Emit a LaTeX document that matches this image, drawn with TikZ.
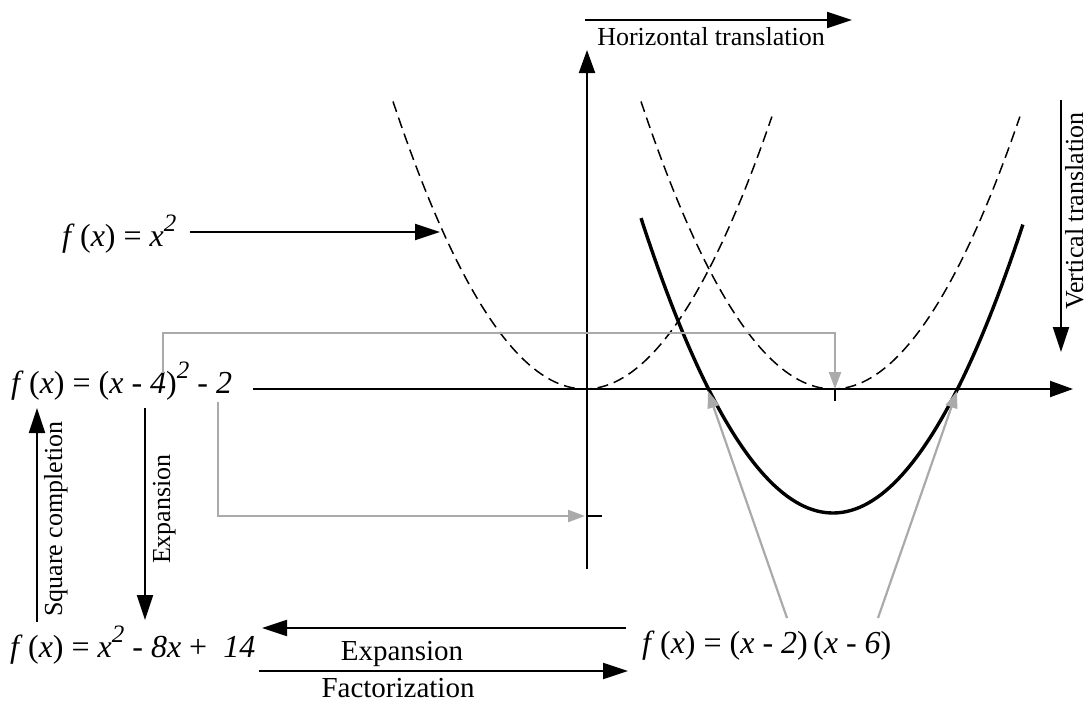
\documentclass[tikz,border=0pt]{standalone}
\usepackage{fontspec}
\setmainfont{Liberation Serif}
\usetikzlibrary{arrows.meta}
\definecolor{arrgray}{RGB}{170,170,170}
\newcommand\mysup[1]{\raisebox{0.45em}{\fontsize{25}{27}\selectfont\itshape #1}}
\tikzset{
  axisarrow/.style={line width=2.1pt, -{Triangle[length=23pt,width=16pt]}},
  bigarrow/.style={line width=2.1pt, -{Triangle[length=25pt,width=16pt]}},
  grayarrow/.style={draw=arrgray, line width=2.2pt, -{Triangle[length=17pt,width=12pt]}},
  dashcurve/.style={line width=1.5pt, dash pattern=on 11pt off 6pt},
  solidcurve/.style={line width=3.4pt},
  tickline/.style={line width=2.1pt},
  lbl/.style={font=\fontsize{26}{30}\selectfont, inner sep=0pt},
  biglbl/.style={font=\fontsize{29}{33}\selectfont, inner sep=0pt},
  formula/.style={font=\fontsize{32}{36}\selectfont, inner sep=0pt, anchor=base west},
}
\begin{document}
\begin{tikzpicture}[x=1pt,y=-1pt]
\useasboundingbox[fill=white] (0,0) rectangle (1088,705);

% curves
\draw[dashcurve] plot[domain=-1.92:1.87, samples=90] ({585+100*\x}, {389-78*\x*\x});
\draw[dashcurve] plot[domain=-1.92:1.87, samples=90] ({833+100*\x}, {389-78*\x*\x});
\draw[solidcurve] plot[domain=-1.92:1.90, samples=90] ({833+100*\x}, {513-80*\x*\x});

% axes
\coordinate (hxA) at (253,389); \coordinate (hxB) at (1073,389);
\coordinate (vyA) at (587,569); \coordinate (vyB) at (587,50);
\draw[axisarrow] (hxA) -- (hxB);
\draw[axisarrow] (vyA) -- (vyB);
\coordinate (tk1a) at (587,516); \coordinate (tk1b) at (602,516);
\draw[tickline] (tk1a) -- (tk1b);
\coordinate (tk2a) at (835,389); \coordinate (tk2b) at (835,401);
\draw[tickline] (tk2a) -- (tk2b);

% translations
\coordinate (htA) at (585,20); \coordinate (htB) at (852,20);
\draw[bigarrow] (htA) -- (htB);
\node[lbl, anchor=base] (htlbl) at (711,45) {Horizontal translation};
\coordinate (vtA) at (1061,100); \coordinate (vtB) at (1061,352);
\draw[bigarrow] (vtA) -- (vtB);
\node[lbl, rotate=90, anchor=base] (vtlbl) at (1083,211) {Vertical translation};

% formulas
\node[formula] (fsq) at (62,246) {\textit{f}\,(\textit{x}) = \textit{x}\mysup{2}};
\node[formula] (fvx) at (11,393) {\textit{f}\,(\textit{x}) = (\textit{x} - \textit{4})\mysup{2} - \textit{2}};
\node[formula] (fex) at (10,657) {\textit{f}\,(\textit{x}) = \textit{x}\mysup{2} - \textit{8x} + \ \textit{14}};
\node[formula] (ffa) at (642,653) {\textit{f}\,(\textit{x}) = (\textit{x} - \textit{2})\,(\textit{x} - \textit{6})};

\coordinate (sqA) at (190,232); \coordinate (sqB) at (440,232);
\draw[bigarrow] (sqA) -- (sqB);

% vertical arrows on the left
\coordinate (exA) at (145,408); \coordinate (exB) at (145,620);
\draw[bigarrow] (exA) -- (exB);
\node[lbl, rotate=90, anchor=base] (exlbl) at (170,509) {Expansion};
\coordinate (scA) at (37,622); \coordinate (scB) at (37,408);
\draw[bigarrow] (scA) -- (scB);
\node[lbl, rotate=90, anchor=base] (sclbl) at (62,519) {Square completion};

% bottom arrows
\coordinate (beA) at (626,628); \coordinate (beB) at (262,628);
\draw[bigarrow] (beA) -- (beB);
\node[biglbl, anchor=base] (belbl) at (402,660) {Expansion};
\coordinate (bfA) at (259,671); \coordinate (bfB) at (628,671);
\draw[bigarrow] (bfA) -- (bfB);
\node[biglbl, anchor=base] (bflbl) at (398,697) {Factorization};

% gray connectors
\coordinate (g1a) at (163,373); \coordinate (g1c) at (835,333); \coordinate (g1b) at (835,389);
\draw[grayarrow] (g1a) |- (g1c) -- (g1b);
\coordinate (g2a) at (218,402); \coordinate (g2b) at (585,516);
\draw[grayarrow] (g2a) |- (g2b);
\coordinate (g3a) at (787,618); \coordinate (g3b) at (708,391);
\draw[grayarrow] (g3a) -- (g3b);
\coordinate (g4a) at (878,618); \coordinate (g4b) at (957,391);
\draw[grayarrow] (g4a) -- (g4b);
\end{tikzpicture}
\end{document}
